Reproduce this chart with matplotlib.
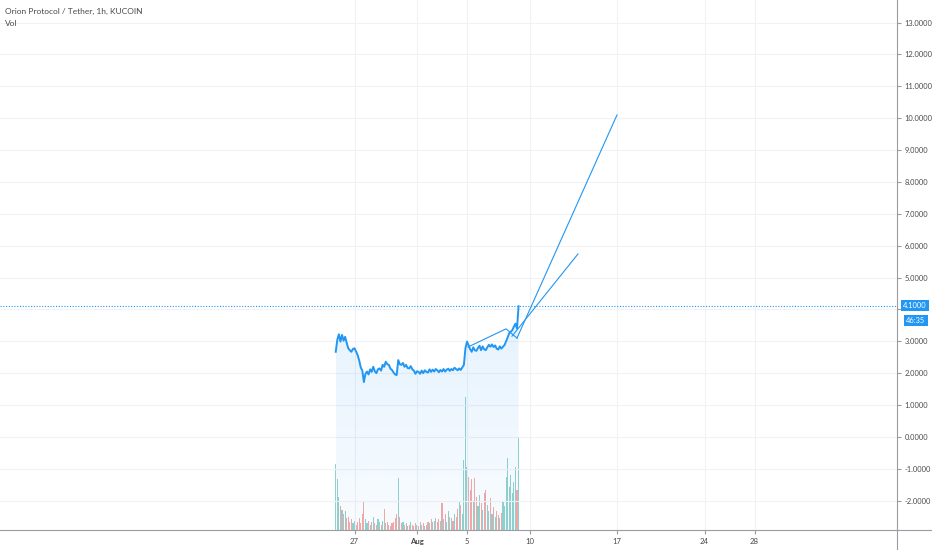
import numpy as np
import matplotlib.pyplot as plt
from matplotlib.lines import Line2D
from matplotlib.patches import Polygon
from matplotlib.colors import to_rgb

plt.rcParams['font.family'] = ['Lato', 'DejaVu Sans']

# 3-hour samples, time in days relative to 5 Aug 00:00
start_day = -10.5
step_day = 0.125

prices = [2.67, 3.05, 3.22, 2.99, 3.20, 3.02, 3.14, 2.95, 2.78, 2.72,
          2.67, 2.76, 2.78, 2.68, 2.57, 2.40, 2.18, 2.08, 1.72, 1.98,
          2.05, 1.96, 2.12, 2.04, 2.20, 2.06, 2.00, 2.12, 2.15, 2.08,
          2.26, 2.20, 2.36, 2.28, 2.26, 2.14, 2.10, 2.02, 1.96, 1.94,
          2.41, 2.28, 2.26, 2.32, 2.20, 2.26, 2.16, 2.15, 2.22, 2.12,
          2.08, 1.98, 2.06, 2.04, 1.98, 2.08, 2.00, 2.09, 2.04, 2.02,
          2.12, 2.04, 2.11, 2.05, 2.13, 2.09, 2.03, 2.10, 2.05, 2.13,
          2.05, 2.11, 2.14, 2.07, 2.13, 2.09, 2.17, 2.13, 2.09, 2.15,
          2.10, 2.18, 2.26, 2.78, 2.99, 2.88, 2.75, 2.67, 2.81, 2.72,
          2.70, 2.79, 2.86, 2.72, 2.84, 2.75, 2.72, 2.81, 2.89, 2.83,
          2.90, 2.82, 2.87, 2.77, 2.74, 2.84, 2.77, 2.83, 2.88, 3.00,
          3.12, 3.25, 3.30, 3.35, 3.46, 3.55, 3.40, 4.10]

volumes = [50, 38, 25, 18, 15, 12, 14, 9, 10, 6,
           8, 5, 7, 4, 6, 9, 5, 12, 21, 8,
           5, 7, 4, 6, 10, 5, 4, 8, 6, 4,
           7, 16, 5, 6, 4, 3, 5, 6, 9, 12,
           39, 10, 5, 6, 4, 5, 3, 4, 6, 4,
           3, 5, 4, 3, 6, 4, 5, 3, 4, 6,
           5, 8, 6, 7, 9, 6, 8, 7, 20, 8,
           12, 6, 14, 10, 9, 7, 12, 10, 16, 22,
           19, 12, 53, 100, 47, 40, 30, 38, 22, 39,
           25, 18, 26, 20, 15, 28, 30, 19, 14, 24,
           12, 17, 10, 14, 11, 9, 13, 22, 18, 40,
           54, 32, 41, 28, 36, 47, 30, 70]

# drawings on the chart (day, price)
trend_days = [0.08, 3.12, 4.0]
trend_prices = [2.82, 3.39, 3.10]
fan_long_days = [4.0, 12.0]
fan_long_prices = [3.10, 10.10]
fan_short_days = [3.6, 8.88]
fan_short_prices = [3.16, 5.74]

last_price = 4.1
countdown = '46:35'

x_ticks = [-9, -4, 0, 5, 12, 19, 23]
x_labels = ['27', 'Aug', '5', '10', '17', '24', '28']
y_ticks = list(range(-2, 14))

blue = '#2196f3'
text_col = '#4a4a4a'
axis_col = '#9a9ca3'
grid_col = '#f0f2f5'

W, H = 932, 550
fig = plt.figure(figsize=(W / 100, H / 100), dpi=100)
fig.patch.set_facecolor('white')
ax = fig.add_axes([0, 20 / H, 897 / W, 530 / H])
vax = ax.twinx()
ax.set_zorder(vax.get_zorder() + 1)
ax.patch.set_visible(False)

xmin, xmax = -37.36, 34.4
ymin, ymax = -2.92, 13.706

days = start_day + step_day * np.arange(len(prices))

# volume bars
colors = []
for i in range(len(volumes)):
    up = i == 0 or prices[i] >= prices[i - 1]
    colors.append('#26a69a' if up else '#ef5350')
vax.bar(days, volumes, width=0.09, color=colors, alpha=0.5, linewidth=0)
vax.set_ylim(0, 100 * 530 / 133)
vax.set_yticks([])
for s in vax.spines.values():
    s.set_visible(False)

# grid
for y in y_ticks:
    ax.axhline(y, color=grid_col, lw=0.8, zorder=0)
for x in x_ticks:
    ax.axvline(x, color=grid_col, lw=0.8, zorder=0)

# gradient area under the price line
verts = np.column_stack([np.r_[days, days[::-1]],
                         np.r_[prices, np.full(len(prices), ymin)]])
poly = Polygon(verts, closed=True, facecolor='none', edgecolor='none')
ax.add_patch(poly)
grad = np.zeros((100, 1, 4))
grad[..., :3] = to_rgb(blue)
grad[..., 3] = np.linspace(0.12, 0.03, 100)[:, None]
im = ax.imshow(grad, extent=[days[0], days[-1], ymin, max(prices)],
               origin='upper', aspect='auto', zorder=1)
im.set_clip_path(poly)

ax.plot(days, prices, color=blue, lw=1.4, zorder=3)
ax.axhline(last_price, color=blue, lw=0.8, ls=(0, (1, 1.5)), zorder=2)

ax.plot(trend_days, trend_prices, color=blue, lw=0.8, zorder=4)
ax.plot(fan_long_days, fan_long_prices, color=blue, lw=0.8, zorder=4)
ax.plot(fan_short_days, fan_short_prices, color=blue, lw=0.8, zorder=4)

ax.set_xlim(xmin, xmax)
ax.set_ylim(ymin, ymax)

ax.yaxis.tick_right()
ax.set_yticks(y_ticks)
# the 4.0000 label sits under the last-price tag, so it is not shown
ax.set_yticklabels(['' if v == 4 else f'{v:.4f}' for v in y_ticks])
ax.set_xticks(x_ticks)
ax.set_xticklabels(x_labels)
for lbl in ax.get_xticklabels():
    if lbl.get_text() == 'Aug':
        lbl.set_fontweight('bold')
ax.tick_params(axis='y', direction='out', length=3, width=0.8, color=axis_col,
               labelsize=5.4, labelcolor=text_col, pad=2.5)
ax.tick_params(axis='x', direction='out', length=3, width=0.8, color=axis_col,
               labelsize=5.6, labelcolor=text_col, pad=2.5)
for side in ['left', 'top']:
    ax.spines[side].set_visible(False)
ax.spines['right'].set_color(axis_col)
ax.spines['bottom'].set_color(axis_col)
ax.spines['right'].set_linewidth(0.8)
ax.spines['bottom'].set_linewidth(0.8)

# axis lines run on past the corner
fig.add_artist(Line2D([897 / W, 897 / W], [0, 20 / H], color=axis_col, lw=0.8))
fig.add_artist(Line2D([897 / W, 1], [20 / H, 20 / H], color=axis_col, lw=0.8))

# last price tags
fig.text(903 / W, 1 - 305.5 / H, f'{last_price:.4f}', ha='left', va='center',
         color='white', fontsize=5.4,
         bbox=dict(boxstyle='square,pad=0.3', fc=blue, ec='none'))
fig.text(906 / W, 1 - 320.5 / H, countdown, ha='left', va='center',
         color='white', fontsize=5.4,
         bbox=dict(boxstyle='square,pad=0.3', fc=blue, ec='none'))

fig.text(5 / W, 1 - 11 / H, 'Orion Protocol / Tether, 1h, KUCOIN', ha='left',
         va='center', color=text_col, fontsize=6.0)
fig.text(5 / W, 1 - 24 / H, 'Vol', ha='left', va='center', color=text_col,
         fontsize=6.0)

fig.savefig('out.png', dpi=100, facecolor='white')
